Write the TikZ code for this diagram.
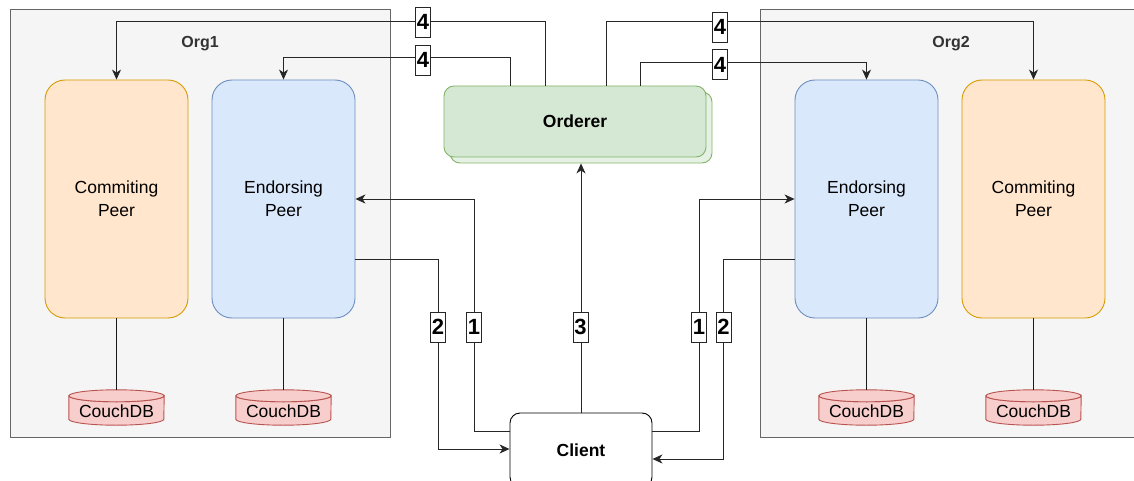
\documentclass[tikz,border=0pt]{standalone}
\usepackage{fontspec}
\setmainfont{Liberation Sans}
\usetikzlibrary{arrows.meta,calc}
\definecolor{orgfill}{HTML}{F5F5F5}
\definecolor{orgline}{HTML}{666666}
\definecolor{orgtext}{HTML}{333333}
\definecolor{orfill}{HTML}{FFE6CC}
\definecolor{orline}{HTML}{D79B00}
\definecolor{blfill}{HTML}{DAE8FC}
\definecolor{blline}{HTML}{6C8EBF}
\definecolor{grfill}{HTML}{D5E8D4}
\definecolor{grline}{HTML}{82B366}
\definecolor{rdfill}{HTML}{F8CECC}
\definecolor{rdline}{HTML}{B85450}
\newcommand\dbcyl[1]{%
  \filldraw[dbstyle] ([yshift=-6pt]#1.north west) -- ([yshift=6pt]#1.south west)
    arc[start angle=180,end angle=0,x radius=47.5,y radius=6]
    -- ([yshift=-6pt]#1.north east)
    arc[start angle=0,end angle=180,x radius=47.5,y radius=6] -- cycle;
  \filldraw[dbstyle] ([yshift=-6pt]#1.north) ellipse[x radius=47.5,y radius=6];
}
\tikzset{
  orgbox/.style={draw=orgline, fill=orgfill, line width=0.9pt, inner sep=0pt},
  orglabel/.style={font=\fontsize{16}{19}\selectfont\bfseries, text=orgtext},
  peerbase/.style={rounded corners=20pt, line width=0.9pt, align=center,
    font=\fontsize{17.5}{23}\selectfont, minimum height=238, inner sep=0pt},
  compeer/.style={peerbase, draw=orline, fill=orfill, minimum width=143},
  endpeer/.style={peerbase, draw=blline, fill=blfill, minimum width=143},
  dbbox/.style={minimum width=95, minimum height=35, inner sep=0pt},
  dbstyle/.style={draw=rdline, fill=rdfill, line width=0.9pt},
  dbtext/.style={font=\fontsize{17.5}{21}\selectfont, inner sep=0pt},
  ordbox/.style={draw=grline, fill=grfill, rounded corners=10pt, line width=0.9pt,
    minimum width=262, minimum height=71, inner sep=0pt,
    font=\fontsize{17.5}{21}\selectfont\bfseries},
  ordshadow/.style={ordbox, fill=grfill!60!white},
  clientbox/.style={draw=black, fill=white, rounded corners=10pt, line width=0.9pt,
    minimum width=142, minimum height=74, inner sep=0pt,
    font=\fontsize{17.5}{21}\selectfont\bfseries},
  conn/.style={draw=black!85, line width=0.9pt,
    -{Stealth[length=10pt,width=9pt,inset=3pt]}},
  plain/.style={draw=black!90, line width=0.8pt},
  numlbl/.style={draw=black!85, fill=white, line width=0.9pt, inner sep=0pt,
    minimum width=15, minimum height=30, font=\fontsize{22}{22}\selectfont\bfseries}
}
\begin{document}
\begin{tikzpicture}[x=1pt,y=-1pt]
\useasboundingbox (0,0) rectangle (1134,481);
% organisations
\node[orgbox, minimum width=380, minimum height=428] (org1) at (200,223) {};
\node[orgbox, minimum width=376, minimum height=428] (org2) at (948,223) {};
\node[orglabel] (org1lbl) at (200,44) {Org1};
\node[orglabel] (org2lbl) at (951,44) {Org2};
% peers
\node[compeer] (cp1) at (116.5,199) {Commiting\\Peer};
\node[endpeer] (ep1) at (283.5,199) {Endorsing\\Peer};
\node[endpeer] (ep2) at (866.5,199) {Endorsing\\Peer};
\node[compeer] (cp2) at (1033.5,199) {Commiting\\Peer};
% databases
\node[dbbox] (db1) at (116.5,407.5) {};
\node[dbbox] (db2) at (283.5,407.5) {};
\node[dbbox] (db3) at (866.5,407.5) {};
\node[dbbox] (db4) at (1033.5,407.5) {};
\dbcyl{db1}\dbcyl{db2}\dbcyl{db3}\dbcyl{db4}
\node[dbtext] (db1t) at ([yshift=-4pt]db1.center) {CouchDB};
\node[dbtext] (db2t) at ([yshift=-4pt]db2.center) {CouchDB};
\node[dbtext] (db3t) at ([yshift=-4pt]db3.center) {CouchDB};
\node[dbtext] (db4t) at ([yshift=-4pt]db4.center) {CouchDB};
\draw[plain] (cp1.south) -- (db1.north);
\draw[plain] (ep1.south) -- (db2.north);
\draw[plain] (ep2.south) -- (db3.north);
\draw[plain] (cp2.south) -- (db4.north);
% orderer
\node[ordshadow] (ordsh) at (581,127.5) {};
\node[ordbox] (ord) at (575,121.5) {Orderer};
% client
\node[clientbox] (client) at (581,450) {Client};
% orderer to peers
\draw[conn] (ord.north -| 545,0) -- (545,21) -| (cp1.north);
\draw[conn] (ord.north -| 510,0) -- (510,57) -| (ep1.north);
\draw[conn] (ord.north -| 606,0) -- (606,21) -| (cp2.north);
\draw[conn] (ord.north -| 640,0) -- (640,62) -| (ep2.north);
% client and peers
\draw[conn] (client.west |- 0,431) -| (474,199) -- (ep1.east);
\draw[conn] (ep1.east |- 0,259) -| (438,449) -- (client.west |- 0,449);
\draw[conn] (client.east |- 0,431) -| (699,199) -- (ep2.west);
\draw[conn] (ep2.west |- 0,259) -| (723.5,459) -- (client.east |- 0,459);
\draw[conn] (client.north) -- (ordsh.south);
% step labels
\node[numlbl] (l4a) at (423,22) {4};
\node[numlbl] (l4b) at (423,60) {4};
\node[numlbl] (l4c) at (720,27) {4};
\node[numlbl] (l4d) at (720,64.5) {4};
\node[numlbl] (l2a) at (438,327) {2};
\node[numlbl] (l1a) at (474,327) {1};
\node[numlbl] (l3) at (580.5,327) {3};
\node[numlbl] (l1b) at (699,327) {1};
\node[numlbl] (l2b) at (723.5,327) {2};
\end{tikzpicture}
\end{document}
